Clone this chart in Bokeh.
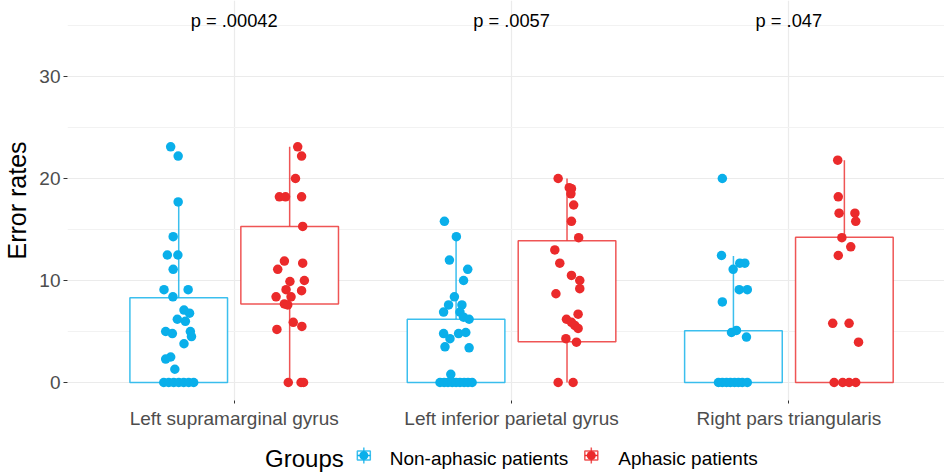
import numpy as np
from bokeh.plotting import figure
from bokeh.models import FixedTicker, SingleIntervalTicker, Range1d, ColumnDataSource
from bokeh.layouts import column
from bokeh.embed import file_html
from bokeh.resources import INLINE
from bokeh.core.properties import value

# ---------------- data ----------------
categories = ["Left supramarginal gyrus", "Left inferior parietal gyrus", "Right pars triangularis"]
p_labels = ["p = .00042", "p = .0057", "p = .047"]
groups = ["Non-aphasic patients", "Aphasic patients"]

# box statistics (per category)
na_q1 = [0.0, 0.0, 0.0]
na_med = [4.45, 0.0, 0.0]
na_q3 = [8.3, 6.2, 5.07]
na_lo = [0.0, 0.0, 0.0]
na_hi = [17.7, 14.3, 12.4]

a_q1 = [7.7, 4.0, 0.0]
a_med = [9.9, 7.65, 5.8]
a_q3 = [15.3, 13.9, 14.25]
a_lo = [0.0, 0.0, 0.0]
a_hi = [23.1, 20.0, 21.8]

# individual error rates (jittered points) and their horizontal jitter (category units)
na1_y = [23.1, 22.2, 17.7, 14.3, 12.5, 12.5, 11.1, 9.1, 9.1, 8.4, 7.1, 6.8, 6.2, 6.0, 5.0, 4.8, 5.0, 4.5, 3.8,
         2.5, 2.3, 1.3, 0, 0, 0, 0, 0, 0, 0]
na1_j = [-0.029, -0.002, -0.002, -0.020, -0.041, -0.003, -0.020, -0.053, 0.034, -0.021, 0.019, 0.039, -0.005,
         0.024, -0.047, -0.023, 0.042, 0.046, 0.019, -0.029, -0.047, -0.014, -0.054, -0.036, -0.018, 0.0, 0.018,
         0.036, 0.054]
a1_y = [23.1, 22.2, 20.0, 18.2, 18.2, 18.2, 15.3, 11.9, 11.1, 11.7, 9.9, 10.0, 9.1, 9.0, 8.4, 7.7, 8.4, 7.6,
        5.9, 5.5, 5.2, 0, 0, 0]
a1_j = [0.029, 0.043, 0.021, -0.037, -0.015, 0.043, 0.047, -0.019, -0.043, 0.047, 0.001, 0.053, -0.013, 0.043,
        -0.049, -0.019, 0.005, -0.007, 0.013, 0.044, -0.046, -0.005, 0.041, 0.050]
na2_y = [15.8, 14.3, 12.0, 11.1, 10.0, 8.4, 7.6, 7.6, 6.9, 6.9, 6.4, 6.2, 4.8, 4.8, 4.9, 4.3, 3.5, 3.4, 0.8,
         0, 0, 0, 0, 0, 0, 0, 0, 0]
na2_j = [-0.042, 0.001, -0.024, 0.042, 0.027, -0.006, -0.027, 0.021, -0.045, 0.014, 0.027, 0.047, -0.045, 0.009,
         0.035, -0.022, -0.040, 0.047, -0.019, -0.058, -0.043, -0.029, -0.014, 0.0, 0.014, 0.029, 0.043, 0.058]
a2_y = [20.0, 19.1, 19.0, 18.5, 17.4, 15.8, 14.2, 13.0, 11.7, 10.5, 10.0, 9.2, 8.7, 6.7, 6.2, 5.9, 5.6, 5.3,
        4.3, 3.95, 0, 0]
a2_j = [-0.032, 0.008, 0.016, 0.014, 0.024, 0.016, 0.042, -0.044, -0.026, 0.016, 0.046, 0.046, -0.040, 0.040,
        -0.002, 0.016, 0.028, 0.040, -0.004, 0.034, -0.032, 0.022]
na3_y = [20.0, 12.45, 11.7, 11.7, 11.1, 9.1, 9.1, 7.9, 4.9, 5.1, 4.45, 0, 0, 0, 0, 0, 0, 0, 0]
na3_j = [-0.040, -0.043, 0.023, 0.041, -0.001, 0.021, 0.050, -0.040, -0.007, 0.011, 0.047, -0.054, -0.040,
         -0.025, -0.011, 0.004, 0.018, 0.032, 0.050]
a3_y = [21.8, 18.2, 16.6, 16.6, 15.8, 14.2, 13.3, 12.45, 5.8, 5.8, 3.95, 0, 0, 0, 0]
a3_j = [-0.024, -0.022, -0.019, 0.038, 0.041, -0.009, 0.023, -0.022, -0.042, 0.017, 0.051, -0.037, -0.006,
        0.017, 0.041]

p_y = 35.5

# ---------------- style ----------------
BLUE = "#0AAFEA"
RED = "#EB2A2B"
FONT = "Liberation Sans"
DODGE = 0.2
BOX_W = 0.352
W = 944
LEFT = 65

xc = np.arange(1, len(categories) + 1)

p = figure(width=W, height=432, output_backend="svg", toolbar_location=None,
           x_range=Range1d(0.399, 3.561), y_range=Range1d(-1.765, 37.45),
           min_border_left=LEFT, min_border_right=0, min_border_top=0, min_border_bottom=32)
p.outline_line_color = None
p.background_fill_color = "white"
p.border_fill_color = "white"

# grids
p.xaxis.ticker = FixedTicker(ticks=list(xc))
p.xaxis.major_label_overrides = {int(i): c for i, c in zip(xc, categories)}
p.yaxis.ticker = SingleIntervalTicker(interval=10, num_minor_ticks=2)
p.ygrid.grid_line_color = "#EBEBEB"
p.ygrid.grid_line_width = 1.2
p.ygrid.minor_grid_line_color = "#F2F2F2"
p.ygrid.minor_grid_line_width = 1
p.xgrid.grid_line_color = "#EBEBEB"
p.xgrid.grid_line_width = 1.2

for ax in (p.xaxis[0], p.yaxis[0]):
    ax.axis_line_color = None
    ax.major_tick_in = 0
    ax.minor_tick_line_color = None
    ax.major_tick_line_color = "#333333"
    ax.major_label_text_font = FONT
    ax.major_label_text_color = "#4D4D4D"
    ax.major_label_text_font_size = "19px"
p.xaxis.major_tick_out = 3
p.xaxis.major_label_standoff = 4
p.yaxis.major_tick_out = 4
p.yaxis.major_label_standoff = 3
p.yaxis.axis_label = "Error rates"
p.yaxis.axis_label_text_font = FONT
p.yaxis.axis_label_text_font_style = "normal"
p.yaxis.axis_label_text_font_size = "25px"
p.yaxis.axis_label_text_color = "#000000"
p.yaxis.axis_label_standoff = 5


def draw_boxes(centers, q1, med, q3, lo, hi, color):
    src = ColumnDataSource(dict(x=centers, q1=q1, med=med, q3=q3, lo=lo, hi=hi,
                                mid=[(a + b) / 2 for a, b in zip(q1, q3)],
                                h=[b - a for a, b in zip(q1, q3)]))
    p.segment("x", "q3", "x", "hi", source=src, line_color=color, line_width=1.5, line_alpha=0.8)
    p.segment("x", "lo", "x", "q1", source=src, line_color=color, line_width=1.5, line_alpha=0.8)
    p.rect("x", "mid", width=BOX_W, height="h", source=src, fill_color="white",
           line_color=color, line_width=1.5, line_alpha=0.8)
    p.rect("x", "med", width=BOX_W, height=0, source=src, fill_alpha=0,
           line_color=color, line_width=2.2, line_alpha=0.9)


draw_boxes(xc - DODGE, na_q1, na_med, na_q3, na_lo, na_hi, BLUE)
draw_boxes(xc + DODGE, a_q1, a_med, a_q3, a_lo, a_hi, RED)

na_sets = [(na1_y, na1_j), (na2_y, na2_j), (na3_y, na3_j)]
a_sets = [(a1_y, a1_j), (a2_y, a2_j), (a3_y, a3_j)]
for k, (ys, js) in enumerate(na_sets):
    p.scatter(x=[xc[k] - DODGE + j for j in js], y=ys, size=9.5, fill_color=BLUE, line_color=None)
for k, (ys, js) in enumerate(a_sets):
    p.scatter(x=[xc[k] + DODGE + j for j in js], y=ys, size=9.5, fill_color=RED, line_color=None)

p.text(x=list(xc), y=[p_y] * len(xc), text=p_labels, text_font=value(FONT), text_font_size="18.3px",
       text_color="#000000", text_align="center", text_baseline="middle")

# ---------------- legend (separate strip; its frame is aligned with the main frame) ----------------
LH = 40
lg = figure(width=W, height=LH, output_backend="svg", toolbar_location=None,
            x_range=Range1d(LEFT, W), y_range=Range1d(0, LH),
            min_border_left=LEFT, min_border_right=0, min_border_top=0, min_border_bottom=0)
lg.axis.visible = False
lg.grid.visible = False
lg.outline_line_color = None

ly = 14
ky = ly + 3
lg.text(x=[263], y=[ly], text=["Groups"], text_font=value(FONT), text_font_size="24px",
        text_color="#000000", text_align="left", text_baseline="middle")
key_x = [362, 590]
lab_x = [388, 617]
for kx, tx, col, g in zip(key_x, lab_x, [BLUE, RED], groups):
    lg.segment(x0=[kx], y0=[ky - 8], x1=[kx], y1=[ky + 8], line_color=col, line_width=1.5, line_alpha=0.8)
    lg.rect(x=[kx], y=[ky], width=13, height=9, fill_color="white", line_color=col, line_width=1.5,
            line_alpha=0.8)
    lg.segment(x0=[kx - 6.5], y0=[ky], x1=[kx + 6.5], y1=[ky], line_color=col, line_width=1.5)
    lg.scatter(x=[kx], y=[ky], size=9, fill_color=col, line_color=None)
    lg.text(x=[tx], y=[ly], text=[g], text_font=value(FONT), text_font_size="19px",
            text_color="#000000", text_align="left", text_baseline="middle")

layout = column(p, lg, spacing=0)
open("out.html", "w").write(file_html(layout, INLINE))
